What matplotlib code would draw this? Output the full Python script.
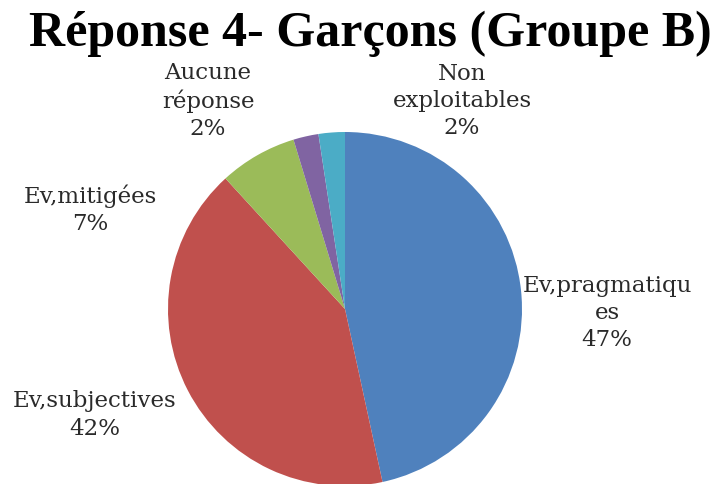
import matplotlib
matplotlib.use("Agg")
import matplotlib.pyplot as plt

categories = ["Ev,pragmatiqu\nes", "Ev,subjectives", "Ev,mitigées", "Aucune\nréponse", "Non\nexploitables"]
values = [46.6, 41.6, 7.1, 2.3, 2.4]
shown_pct = [47, 42, 7, 2, 2]
colors = ["#4F81BD", "#C0504D", "#9BBB59", "#8064A2", "#4BACC6"]
title = "Réponse 4- Garçons (Groupe B)"

W, H = 718, 485
fig = plt.figure(figsize=(W / 100, H / 100), dpi=100)
fig.patch.set_facecolor("white")

cx, cy, r = 345, 310, 177
ax = fig.add_axes([(cx - r) / W, (H - cy - r) / H, 2 * r / W, 2 * r / H])
ax.pie(values, colors=colors, startangle=90, counterclock=False, radius=1,
       wedgeprops=dict(linewidth=0))
ax.set_xlim(-1, 1)
ax.set_ylim(-1, 1)
ax.set_aspect("equal")
ax.axis("off")

# label centers in pixel coords
label_pos = [(607, 313), (95, 415), (90, 210), (208, 101), (462, 101)]
for cat, pct, (px, py) in zip(categories, shown_pct, label_pos):
    ax.text((px - cx) / r, (cy - py) / r, f"{cat}\n{pct}%", ha="center", va="center",
            fontsize=16.5, family="DejaVu Serif", linespacing=1.3, color="#2a2a2a")

fig.text(370 / W, 1 - 34 / H, title, ha="center", va="center", fontsize=36,
         fontweight="bold", family="Liberation Serif")

fig.savefig("out.png", dpi=100)
